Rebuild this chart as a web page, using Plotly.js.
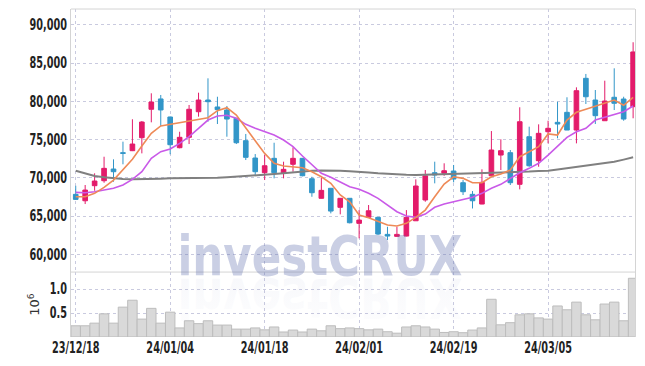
<!DOCTYPE html>
<html><head><meta charset="utf-8">
<script src="https://cdn.plot.ly/plotly-3.0.1.min.js"></script>
<style>html,body{margin:0;padding:0;background:#fff}#chart{width:645px;height:366px}</style>
</head><body><div id="chart"></div>
<script>
const dates = ["23/12/18","23/12/19","23/12/20","23/12/21","23/12/22","23/12/26","23/12/27","23/12/28",
"24/01/02","24/01/03","24/01/04","24/01/05","24/01/08","24/01/09","24/01/10","24/01/11","24/01/12",
"24/01/15","24/01/16","24/01/17","24/01/18","24/01/19","24/01/22","24/01/23","24/01/24","24/01/25",
"24/01/26","24/01/29","24/01/30","24/01/31","24/02/01","24/02/02","24/02/05","24/02/06","24/02/07",
"24/02/08","24/02/13","24/02/14","24/02/15","24/02/16","24/02/19","24/02/20","24/02/21","24/02/22",
"24/02/23","24/02/26","24/02/27","24/02/28","24/02/29","24/03/04","24/03/05","24/03/06","24/03/07",
"24/03/08","24/03/11","24/03/12","24/03/13","24/03/14","24/03/15","24/03/18"];
const openP  = [67840,67000,68970,69620,71150,73290,73550,75250,78970,80320,77960,73940,75300,78650,80180,79270,78870,77790,74860,72590,70670,72550,70590,71770,72550,69880,67320,68630,66140,67320,64040,64830,64830,62600,62340,62380,64380,67100,70670,70590,70890,69360,67840,66570,70270,72980,73290,69150,75380,72240,76030,77260,78570,76250,83020,80180,77470,80540,80310,79310];
const highP  = [68960,69060,70590,72760,72420,74730,77660,77430,81060,80840,78000,76030,79530,81140,83020,80610,79400,77800,75740,73110,72980,74590,72110,73990,72600,70140,70010,68650,67350,67350,65780,66440,64850,63600,63600,65780,69800,71020,72110,71900,71680,69710,68270,71110,76120,75040,73640,79230,76690,77000,77470,79960,80540,81840,83590,81490,82710,84330,80610,87740];
const lowP   = [67100,66570,68310,69360,69490,71770,73500,73200,77260,76790,73080,73860,74420,78000,77340,77040,75380,74420,72330,70270,69710,69930,69930,70800,70200,67520,67300,65350,65220,64040,62080,64800,62510,61860,62300,62340,64380,66870,69280,70270,69410,67750,65990,66550,70270,71020,69060,68490,71450,71450,74510,75170,76250,74510,79660,77040,77470,78870,77470,77790];
const closeP = [67180,68400,69580,71240,70800,73200,74420,77300,79920,78880,74330,75300,78970,80180,79960,78920,77690,74590,72680,70800,71580,70670,71110,72550,70270,68050,68360,65650,67320,64120,64470,65690,62640,62380,62600,64830,68930,70270,70370,70930,69840,68180,67000,69410,73640,73550,69360,77340,71580,75820,76480,77040,76250,81400,80610,78130,80050,79750,77690,86470];
const maShort = [67530,67530,67970,68760,69710,71020,72420,74160,75820,76790,77000,77260,77470,77660,77870,78780,79170,78220,76480,74860,73200,71900,71540,71450,71320,70800,70140,69280,67750,66870,65130,64780,64250,63820,63690,64040,64830,65780,67520,69190,70140,69930,69360,69360,70140,70500,71020,72760,73420,74080,75740,75600,77560,78570,78970,79400,79750,80180,79490,80540];
const maMid = [68100,68050,68180,68400,68630,69060,69800,70800,72550,73420,73770,74510,75380,76480,77560,78090,78180,77790,77000,76500,76030,75600,74950,74080,72850,71670,70590,70070,69490,68840,68500,67970,67320,66440,65560,65000,64830,65260,66140,66570,66870,67100,67450,67970,68630,69150,69930,70670,71240,71900,72980,74080,75300,76030,76480,77560,77920,78220,78650,79400];
const maLong = [70930,70590,70240,70070,69930,69840,69800,69800,69840,69890,69930,69930,69930,69930,69960,70000,70070,70140,70200,70270,70410,70500,70600,70720,70830,70930,70950,70950,70930,70850,70800,70700,70600,70500,70430,70400,70370,70400,70450,70500,70530,70560,70590,70590,70620,70650,70700,70750,70820,70890,70930,71080,71240,71420,71600,71770,71940,72110,72380,72680];
const volume = [235000,235000,290000,485000,290000,625000,770000,375000,600000,290000,520000,190000,340000,280000,340000,250000,250000,165000,165000,190000,150000,210000,105000,145000,105000,165000,130000,235000,175000,190000,175000,150000,165000,110000,80000,210000,235000,210000,165000,95000,110000,90000,145000,190000,790000,255000,300000,465000,485000,400000,375000,650000,570000,730000,465000,360000,690000,730000,340000,1230000];
const xTickVals = ["23/12/18","24/01/04","24/01/18","24/02/01","24/02/19","24/03/05"];
const priceTicks = [60000,65000,70000,75000,80000,85000,90000];
const volTicks = [500000,1000000];
const volTickText = ["0.5","1.0"];
const watermark = "investCRUX";

const UP = "#e31b6a", DOWN = "#3296c8";
const condFam = "'DejaVu Sans Condensed','DejaVu Sans',sans-serif";
const tickFont = {family:condFam, size:15, color:"#222", weight:"bold"};
const gridC = "#c9cadf";
const WM_SIZE = 56;

const traces = [
  {type:"bar", x:dates, y:volume, xaxis:"x", yaxis:"y2",
   marker:{color:"#d9d9d9", line:{color:"#bdbdbd", width:1}}, hoverinfo:"skip"},
  {type:"candlestick", x:dates, open:openP, high:highP, low:lowP, close:closeP, xaxis:"x", yaxis:"y",
   increasing:{line:{color:UP,width:1}, fillcolor:UP},
   decreasing:{line:{color:DOWN,width:1}, fillcolor:DOWN}, whiskerwidth:0},
  {type:"scatter", mode:"lines", x:dates, y:maLong, line:{color:"#808080", width:2}, yaxis:"y"},
  {type:"scatter", mode:"lines", x:dates, y:maMid, line:{color:"#c95ae8", width:1.6}, yaxis:"y"},
  {type:"scatter", mode:"lines", x:dates, y:maShort, line:{color:"#ee8a57", width:1.6}, yaxis:"y"}
];

const layout = {
  width:645, height:366, showlegend:false,
  margin:{l:71, r:10, t:9, b:29},
  paper_bgcolor:"#fff", plot_bgcolor:"#fff",
  bargap:0,
  xaxis:{type:"category", anchor:"y2", range:[-0.5,59.2], rangeslider:{visible:false},
    tickmode:"array", tickvals:xTickVals, ticktext:xTickVals, tickfont:tickFont,
    showgrid:true, gridcolor:gridC, griddash:"dot", gridwidth:1, showline:false, ticks:"", zeroline:false},
  yaxis:{domain:[0.198,1], range:[57670,92090], tickmode:"array", tickvals:priceTicks, tickformat:",d",
    tickfont:tickFont, showgrid:true, gridcolor:gridC, griddash:"dot", showline:true, mirror:true,
    linecolor:"#d4d4d4", linewidth:1, ticks:"", zeroline:false},
  yaxis2:{domain:[0,0.198], range:[0,1360000], tickmode:"array", tickvals:volTicks, ticktext:volTickText,
    tickfont:tickFont, showgrid:true, gridcolor:gridC, griddash:"dot", showline:true, mirror:true,
    linecolor:"#d4d4d4", linewidth:1, ticks:"", zeroline:false,
    title:{text:"10<sup>6</sup>", font:{family:"'DejaVu Sans',sans-serif", size:13, color:"#333"}, standoff:0}},
  shapes:[
    {type:"line", xref:"paper", yref:"paper", x0:0, x1:1, y0:1, y1:1, line:{color:"#d4d4d4", width:1}},
    {type:"line", xref:"paper", yref:"paper", x0:0, x1:1, y0:0.198, y1:0.198, line:{color:"#d4d4d4", width:1}}
  ],
  annotations:[
    {text:watermark, xref:"paper", yref:"paper", x:0.4415, y:0.2485, xanchor:"center", yanchor:"middle",
     showarrow:false, font:{family:condFam, size:WM_SIZE, color:"rgba(90,105,170,0.32)", weight:"bold"}},
    {text:watermark, xref:"paper", yref:"paper", x:0.4415, y:0.2485, xanchor:"center", yanchor:"middle",
     showarrow:false, font:{family:condFam, size:WM_SIZE, color:"rgba(90,105,170,0.2)", weight:"bold"}}
  ]
};

function squeeze(el, factor) {
  const w = el.getComputedTextLength();
  if (w > 0) {
    el.setAttribute("textLength", (w * factor).toFixed(2));
    el.setAttribute("lengthAdjust", "spacingAndGlyphs");
  }
}

Plotly.newPlot("chart", traces, layout, {staticPlot:true, displayModeBar:false}).then(function(gd){
  gd.querySelectorAll(".xtick text, .ytick text, .y2tick text").forEach(t => squeeze(t, 0.72));
  const svg = gd.querySelector("svg.main-svg");
  const NS = "http://www.w3.org/2000/svg";
  let defs = svg.querySelector("defs");
  if (!defs) { defs = document.createElementNS(NS, "defs"); svg.insertBefore(defs, svg.firstChild); }
  const grad = document.createElementNS(NS, "linearGradient");
  grad.setAttribute("id", "wmFade");
  grad.setAttribute("x1", "0"); grad.setAttribute("y1", "0");
  grad.setAttribute("x2", "0"); grad.setAttribute("y2", "1");
  [["0","rgb(90,105,170)","0.05"],["0.5","rgb(90,105,170)","0.15"],["1","rgb(90,105,170)","0.27"]].forEach(s => {
    const st = document.createElementNS(NS, "stop");
    st.setAttribute("offset", s[0]); st.setAttribute("stop-color", s[1]); st.setAttribute("stop-opacity", s[2]);
    grad.appendChild(st);
  });
  defs.appendChild(grad);
  const anns = gd.querySelectorAll(".annotation");
  anns.forEach((a, k) => {
    const t = a.querySelector("text.annotation-text");
    if (!t) return;
    t.setAttribute("textLength", "285");
    t.setAttribute("lengthAdjust", "spacingAndGlyphs");
    if (k === 1) {
      const bb = t.getBBox();
      const ym = bb.y + bb.height - WM_SIZE * 0.2;
      t.setAttribute("transform", "translate(0," + (2 * ym) + ") scale(1,-1)");
      t.style.fill = "url(#wmFade)";
    }
  });
});
</script>
</body></html>
